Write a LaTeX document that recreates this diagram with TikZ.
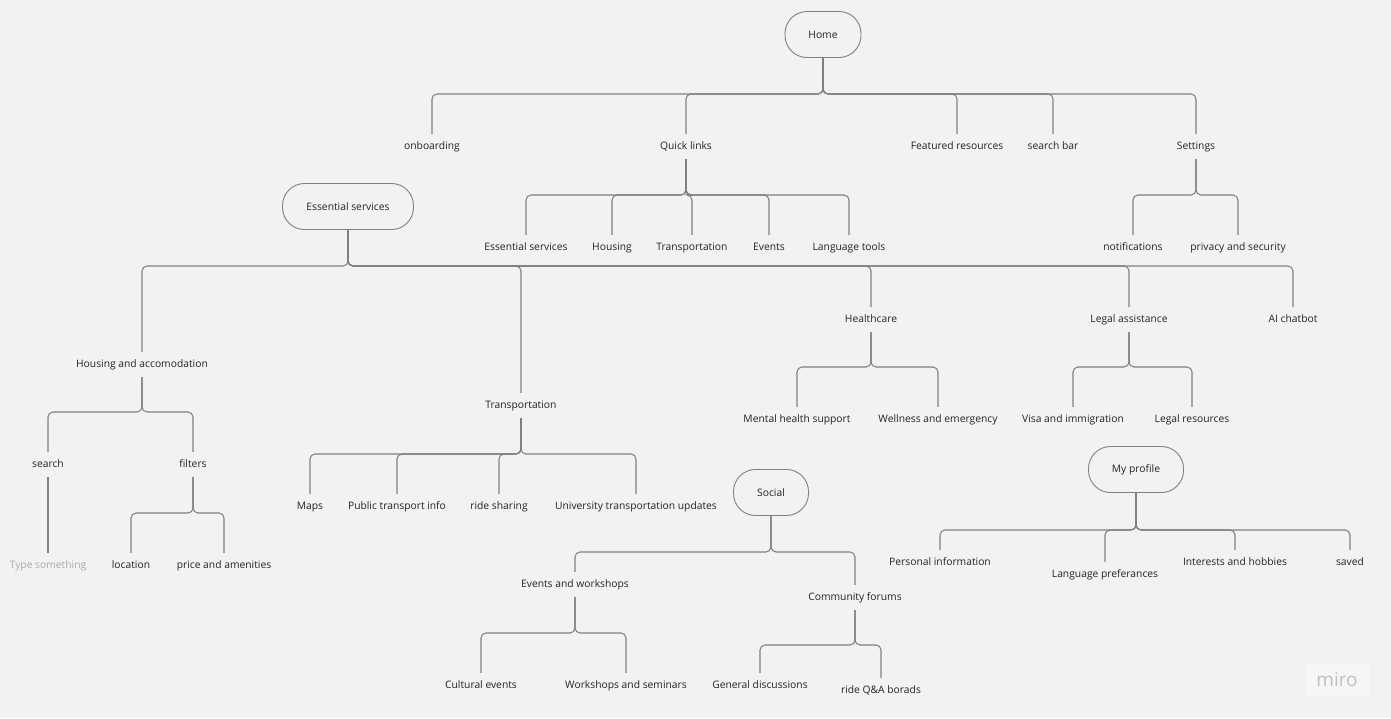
\documentclass[tikz,border=0pt]{standalone}
\usepackage{fontspec}
\setmainfont{Open Sans}
\definecolor{bg}{HTML}{F2F2F2}
\definecolor{ln}{HTML}{808080}
\definecolor{tx}{HTML}{222222}
\definecolor{ghost}{HTML}{AAAAAA}
\definecolor{wm}{HTML}{BFBFBF}
\tikzset{
  lbl/.style={font=\fontsize{10.3}{12}\selectfont, text=tx, inner xsep=1pt, inner ysep=0pt, text height=7.6pt, text depth=2.4pt, minimum height=25pt},
  pill/.style={draw=ln, line width=0.9pt, fill=bg, rounded corners=22pt, minimum height=46pt, inner sep=0pt, font=\fontsize{10.3}{12}\selectfont, text=tx},
  conn/.style={draw=ln, line width=1.05pt, rounded corners=5pt},
}
\newcommand\branch[3]{\draw[conn] (#1.south) -- (#1.south |- 0,#2) -- (#3.north |- 0,#2) -- (#3.north);}
\begin{document}
\begin{tikzpicture}[x=1pt,y=-1pt]
\fill[bg] (0,0) rectangle (1391,718);
\useasboundingbox (0,0) rectangle (1391,718);

% Home level
\node[pill, minimum width=76pt] (home) at (823,34.5) {Home};
\node[lbl] (onb) at (432,146.5) {onboarding};
\node[lbl] (ql) at (686,146.5) {Quick links};
\node[lbl] (feat) at (957,146.5) {Featured resources};
\node[lbl] (sbar) at (1053,146.5) {search bar};
\node[lbl] (set) at (1196,146.5) {Settings};
\foreach \c in {onb,ql,feat,sbar,set} {\branch{home}{94}{\c}}

% Quick links
\node[lbl] (qes) at (526,247.5) {Essential services};
\node[lbl] (qho) at (612,247.5) {Housing};
\node[lbl] (qtr) at (692,247.5) {Transportation};
\node[lbl] (qev) at (769,247.5) {Events};
\node[lbl] (qlt) at (849,247.5) {Language tools};
\foreach \c in {qes,qho,qtr,qev,qlt} {\branch{ql}{195}{\c}}

% Settings
\node[lbl] (not) at (1133,247.5) {notifications};
\node[lbl] (priv) at (1238,247.5) {privacy and security};
\foreach \c in {not,priv} {\branch{set}{195}{\c}}

% Essential services
\node[pill, minimum width=131pt] (es) at (348,206.5) {Essential services};
\node[lbl] (hac) at (142,364.5) {Housing and accomodation};
\node[lbl] (tra) at (521,405.5) {Transportation};
\node[lbl] (hc) at (871,319.5) {Healthcare};
\node[lbl] (la) at (1129,319.5) {Legal assistance};
\node[lbl] (ai) at (1293,319.5) {AI chatbot};
\foreach \c in {hac,tra,hc,la,ai} {\branch{es}{266}{\c}}

% Housing and accomodation
\node[lbl] (srch) at (48,464.5) {search};
\node[lbl] (filt) at (193,464.5) {filters};
\foreach \c in {srch,filt} {\branch{hac}{412}{\c}}
\node[lbl, text=ghost] (type) at (48,565.5) {Type something};
\draw[conn] (srch.south) -- (type.north);
\node[lbl] (loc) at (131,565.5) {location};
\node[lbl] (pri) at (224,565.5) {price and amenities};
\foreach \c in {loc,pri} {\branch{filt}{513}{\c}}

% Transportation
\node[lbl] (maps) at (310,506.5) {Maps};
\node[lbl] (pti) at (397,506.5) {Public transport info};
\node[lbl] (rs) at (499,506.5) {ride sharing};
\node[lbl] (utu) at (636,506.5) {University transportation updates};
\foreach \c in {maps,pti,rs,utu} {\branch{tra}{454}{\c}}

% Healthcare
\node[lbl] (mhs) at (797,419.5) {Mental health support};
\node[lbl] (wae) at (938,419.5) {Wellness and emergency};
\foreach \c in {mhs,wae} {\branch{hc}{367}{\c}}

% Legal assistance
\node[lbl] (vai) at (1073,419.5) {Visa and immigration};
\node[lbl] (lr) at (1192,419.5) {Legal resources};
\foreach \c in {vai,lr} {\branch{la}{367}{\c}}

% Social
\node[pill, minimum width=75pt] (soc) at (771,492.5) {Social};
\node[lbl] (eaw) at (575,584.5) {Events and workshops};
\node[lbl] (cf) at (855,597.5) {Community forums};
\foreach \c in {eaw,cf} {\branch{soc}{552}{\c}}
\node[lbl] (ce) at (481,685.5) {Cultural events};
\node[lbl] (was) at (626,685.5) {Workshops and seminars};
\foreach \c in {ce,was} {\branch{eaw}{633}{\c}}
\node[lbl] (gd) at (760,685.5) {General discussions};
\node[lbl] (rqa) at (881,690.5) {ride Q\&A borads};
\foreach \c in {gd,rqa} {\branch{cf}{645}{\c}}

% My profile
\node[pill, minimum width=95pt] (mp) at (1136,469.5) {My profile};
\node[lbl] (pin) at (940,562.5) {Personal information};
\node[lbl] (lp) at (1105,574.5) {Language preferances};
\node[lbl] (iah) at (1235,562.5) {Interests and hobbies};
\node[lbl] (sav) at (1350,562.5) {saved};
\foreach \c in {pin,lp,iah,sav} {\branch{mp}{530}{\c}}

% watermark
\node[fill=white!30!bg, minimum width=63pt, minimum height=33pt, inner sep=0pt, text=wm, font=\fontsize{19}{20}\selectfont] (miro) at (1337,680) {miro};
\end{tikzpicture}
\end{document}
